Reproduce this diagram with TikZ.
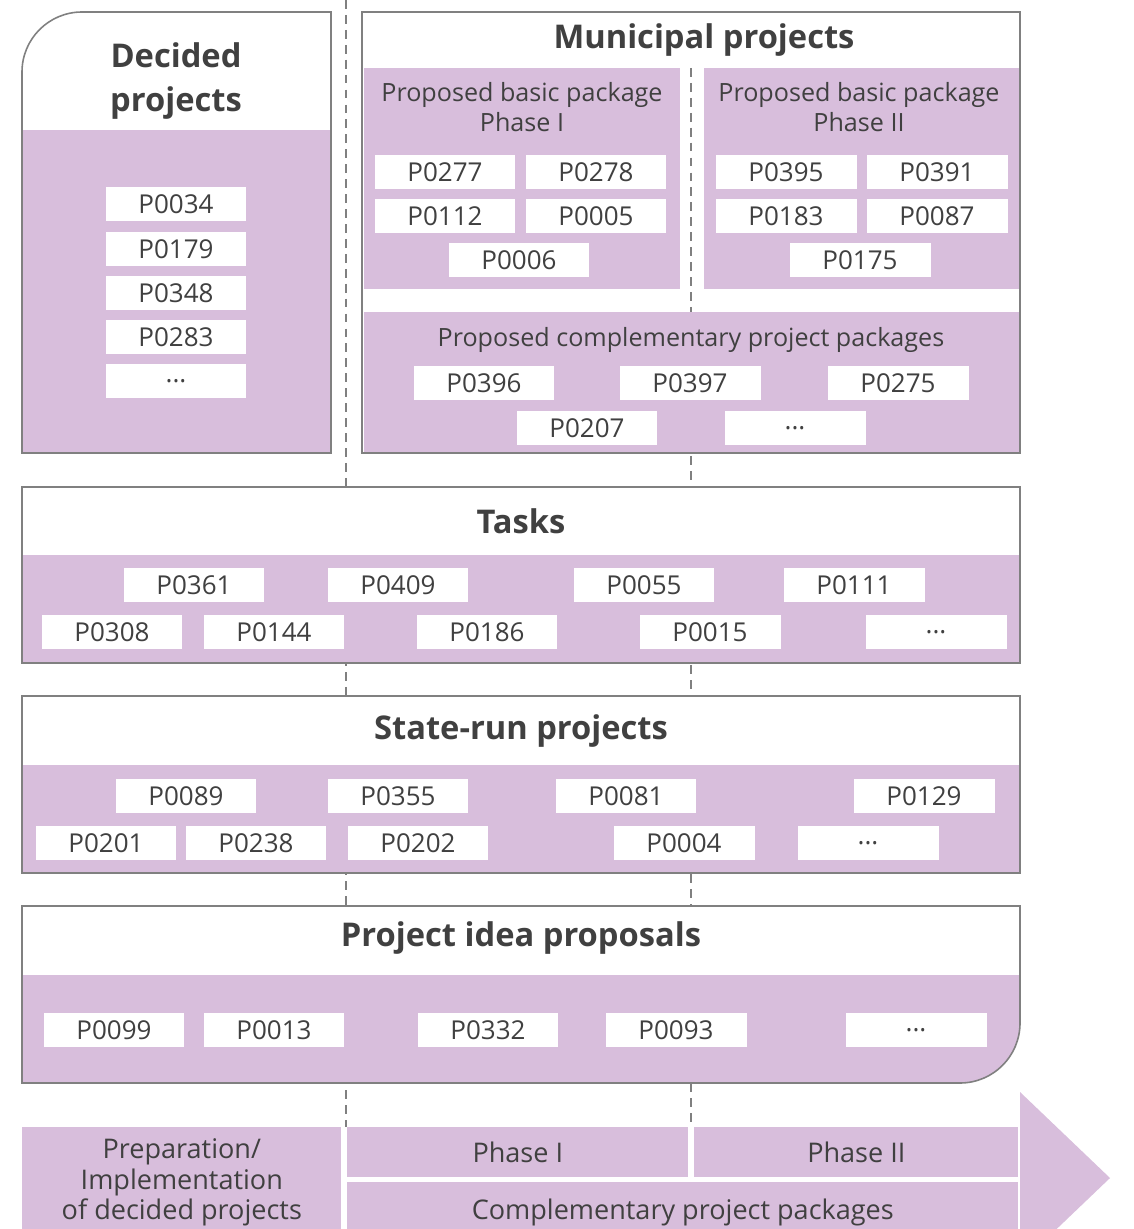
\documentclass[tikz,border=0pt]{standalone}
\usepackage{fontspec}
\setmainfont{Open Sans}
\usepackage{tikz}
\usetikzlibrary{positioning}
\usepackage{xcolor}
\definecolor{lilac}{RGB}{216,190,220}
\definecolor{frame}{RGB}{128,128,128}
\definecolor{ink}{RGB}{64,64,64}

\tikzset{
  item/.style={fill=white,text=ink,minimum width=2.82cm,minimum height=0.68cm,inner sep=0pt,font=\fontsize{14.8}{16}\selectfont},
  title/.style={text=ink,align=center,font=\fontsize{18.6}{25.5}\selectfont\bfseries},
  subtitle/.style={text=ink,align=center,font=\fontsize{14.3}{17.5}\selectfont},
  band/.style={fill=lilac},
  border/.style={draw=frame,line width=0.9pt},
  phase/.style={fill=lilac,text=ink,align=center,inner sep=0pt,font=\fontsize{15.4}{17.2}\selectfont},
  divider/.style={draw=frame,line width=0.8pt,dash pattern=on 5pt off 3.5pt}
}

\begin{document}
\begin{tikzpicture}[x=0.02cm,y=-0.02cm]
\useasboundingbox (0,0) rectangle (1133,1229);

% municipal box background first, the dashed dividers run over it
\fill[white] (362,12) rectangle (1020,453);

% dividers
\coordinate (divA top) at (346,0);
\coordinate (divA bot) at (346,1127);
\coordinate (divB top) at (691,68);
\coordinate (divB bot) at (691,1127);
\draw[divider] (divA top) -- (divA bot);
\draw[divider] (divB top) -- (divB bot);

% Decided projects
\fill[white] (22,453) [rounded corners=1.2cm] -- (22,12) -- (176,12) [sharp corners] -- (331,12) -- (331,453) -- cycle;
\fill[band] (22,130) rectangle (331,453);
\draw[border] (22,453) [rounded corners=1.2cm] -- (22,12) -- (176,12) [sharp corners] -- (331,12) -- (331,453) -- cycle;
\node[title] (decided) at (176,81) {Decided\\projects};
\node[item] (d1) at (176,204) {P0034};
\node[item] (d2) at (176,249) {P0179};
\node[item] (d3) at (176,293) {P0348};
\node[item] (d4) at (176,337) {P0283};
\node[item] (d5) at (176,381) {...};

% Municipal projects
\fill[band] (364,68) rectangle (680,289);
\fill[band] (704,68) rectangle (1020,289);
\fill[band] (364,312) rectangle (1020,453);
\draw[border] (362,12) rectangle (1020,453);
\node[title] (municipal) at (704,40) {Municipal projects};
\node[subtitle] (basic1) at (522,107) {Proposed basic package\\Phase I};
\node[subtitle] (basic2) at (859,107) {Proposed basic package\\Phase II};
\node[item] (m1) at (445,172) {P0277};
\node[item] (m2) at (596,172) {P0278};
\node[item] (m3) at (445,216) {P0112};
\node[item] (m4) at (596,216) {P0005};
\node[item] (m5) at (519,260) {P0006};
\node[item] (m6) at (786,172) {P0395};
\node[item] (m7) at (937,172) {P0391};
\node[item] (m8) at (786,216) {P0183};
\node[item] (m9) at (937,216) {P0087};
\node[item] (m10) at (860,260) {P0175};
\node[subtitle] (compl) at (691,340) {Proposed complementary project packages};
\node[item] (c1) at (484,383) {P0396};
\node[item] (c2) at (690,383) {P0397};
\node[item] (c3) at (898,383) {P0275};
\node[item] (c4) at (587,428) {P0207};
\node[item] (c5) at (795,428) {...};

% Tasks
\fill[white] (22,487) rectangle (1020,663);
\fill[band] (22,555) rectangle (1020,663);
\draw[border] (22,487) rectangle (1020,663);
\node[title] (tasks) at (521,521) {Tasks};
\node[item] (t1) at (194,585) {P0361};
\node[item] (t2) at (398,585) {P0409};
\node[item] (t3) at (644,585) {P0055};
\node[item] (t4) at (854,585) {P0111};
\node[item] (t5) at (112,632) {P0308};
\node[item] (t6) at (274,632) {P0144};
\node[item] (t7) at (487,632) {P0186};
\node[item] (t8) at (710,632) {P0015};
\node[item] (t9) at (936,632) {...};

% State-run projects
\fill[white] (22,696) rectangle (1020,873);
\fill[band] (22,765) rectangle (1020,873);
\draw[border] (22,696) rectangle (1020,873);
\node[title] (state) at (521,731) {State-run projects};
\node[item] (s1) at (186,796) {P0089};
\node[item] (s2) at (398,796) {P0355};
\node[item] (s3) at (626,796) {P0081};
\node[item] (s4) at (924,796) {P0129};
\node[item] (s5) at (106,843) {P0201};
\node[item] (s6) at (256,843) {P0238};
\node[item] (s7) at (418,843) {P0202};
\node[item] (s8) at (684,843) {P0004};
\node[item] (s9) at (868,843) {...};

% Project idea proposals
\fill[white] (22,1083) -- (22,906) -- (1020,906) -- (1020,990) [rounded corners=1.2cm] -- (1020,1083) -- (500,1083) [sharp corners] -- cycle;
\fill[band] (22,1083) -- (22,975) -- (1020,975) -- (1020,1000) [rounded corners=1.2cm] -- (1020,1083) -- (500,1083) [sharp corners] -- cycle;
\draw[border] (22,1083) -- (22,906) -- (1020,906) -- (1020,990) [rounded corners=1.2cm] -- (1020,1083) -- (500,1083) [sharp corners] -- cycle;
\node[title] (ideas) at (521,938) {Project idea proposals};
\node[item] (p1) at (114,1030) {P0099};
\node[item] (p2) at (274,1030) {P0013};
\node[item] (p3) at (488,1030) {P0332};
\node[item] (p4) at (676,1030) {P0093};
\node[item] (p5) at (916,1030) {...};

% time line
\fill[band] (1020,1092) -- (1110,1178) -- (1020,1264) -- cycle;
\node[phase,minimum width=6.38cm,minimum height=2.2cm,anchor=north west] (prep) at (22,1127) {Preparation/\\Implementation\\of decided projects};
\node[phase,minimum width=6.82cm,minimum height=1.0cm,anchor=north west] (ph1) at (347,1127) {Phase I};
\node[phase,minimum width=6.48cm,minimum height=1.0cm,anchor=north west] (ph2) at (694,1127) {Phase II};
\node[phase,minimum width=13.42cm,minimum height=1.2cm,anchor=north west] (cpp) at (347,1182) {Complementary project packages};
\end{tikzpicture}
\end{document}
